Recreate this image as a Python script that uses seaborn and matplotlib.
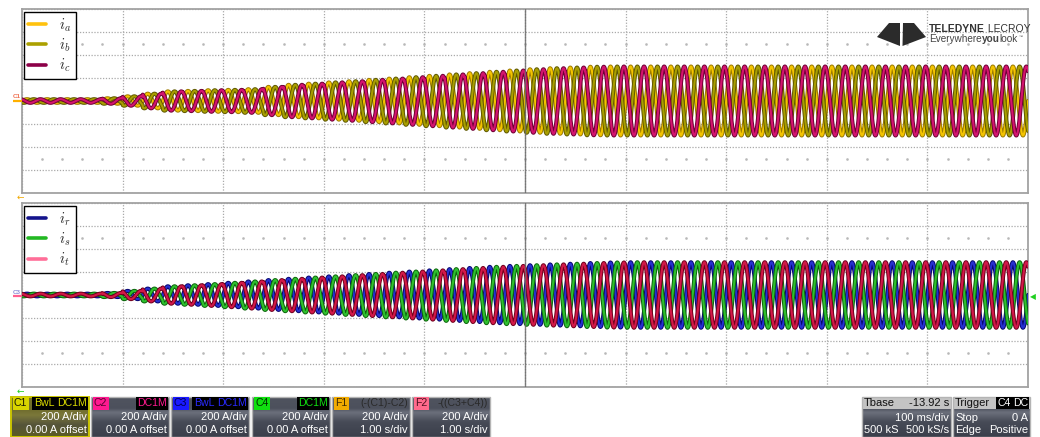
import numpy as np
import pandas as pd
import matplotlib
matplotlib.use("Agg")
import matplotlib.pyplot as plt
import matplotlib.patheffects as pe
from matplotlib.lines import Line2D
from matplotlib.patches import Rectangle, Polygon
from matplotlib.font_manager import FontProperties
from matplotlib.colors import to_rgb
import seaborn as sns

# ---------------- data ----------------
FREQ_HZ = 50.0             # 5 cycles per 100 ms division
TIME_SPAN_MS = 1000        # 10 div x 100 ms/div
CYCLE_MS = 20
AMPS_PER_DIV = 200         # 200 A/div, 8 vertical divisions

# peak current of every 20 ms cycle (A), top panel (i_a, i_b, i_c)
peak_abc_A = [16, 16, 16, 16, 24, 41, 64, 84, 88, 94,
              97, 103, 123, 141, 151, 162, 172, 184, 195, 207,
              219, 231, 242, 254, 265, 276, 285, 291, 298, 300,
              300, 300, 300, 300, 300, 300, 300, 300, 300, 300,
              300, 300, 300, 300, 300, 300, 300, 300, 300, 300]
# peak current of every 20 ms cycle (A), bottom panel (i_r, i_s, i_t)
peak_rst_A = [12, 12, 12, 12, 18, 36, 56, 76, 85, 95,
              106, 118, 130, 141, 152, 162, 173, 183, 194, 204,
              214, 225, 235, 245, 253, 259, 266, 272, 278, 283,
              285, 285, 285, 285, 285, 285, 285, 285, 285, 285,
              285, 285, 285, 285, 285, 285, 285, 285, 285, 285]

labels_top = ["$i_a$", "$i_b$", "$i_c$"]
labels_bot = ["$i_r$", "$i_s$", "$i_t$"]
phase_shift_deg = [0, -120, 120]

trace_colors_top = ["#F4C400", "#A89E00", "#D3146E"]
edge_colors_top = ["#9C7A00", "#5E5800", "#6E0034"]
legend_colors_top = ["#FFC20E", "#ABA000", "#8C0048"]
trace_colors_bot = ["#2630D0", "#2EC02E", "#D21848"]
edge_colors_bot = ["#050570", "#0B640B", "#70001C"]
legend_colors_bot = ["#14148C", "#22B822", "#FF6E98"]

# ---------------- build long-form tables ----------------
t_ms = np.linspace(0, TIME_SPAN_MS, 10001)
cyc = np.minimum((t_ms // CYCLE_MS).astype(int), len(peak_abc_A) - 1)


def panel_frame(peaks, labels):
    rows = []
    amp = np.asarray(peaks, float)[cyc]
    for lab, sh in zip(labels, phase_shift_deg):
        y = amp * np.sin(2 * np.pi * FREQ_HZ * t_ms / 1000 + np.deg2rad(sh))
        rows.append(pd.DataFrame({"time_ms": t_ms, "current_A": y, "phase": lab}))
    return pd.concat(rows, ignore_index=True)


df_top = panel_frame(peak_abc_A, labels_top)
df_bot = panel_frame(peak_rst_A, labels_bot)

# ---------------- figure ----------------
sns.set_theme(style="white")
plt.rcParams["font.family"] = ["Liberation Sans", "DejaVu Sans"]

W, H = 1040, 437
fig = plt.figure(figsize=(W / 100, H / 100), dpi=100)
fig.patch.set_facecolor("white")

left_px, right_px = 22, 1028
panels = [(9, 193), (203, 387)]
axes = []
for (y0, y1) in panels:
    ax = fig.add_axes([left_px / W, 1 - y1 / H, (right_px - left_px) / W, (y1 - y0) / H])
    axes.append(ax)


def style_axis(ax):
    ax.set_xlim(0, TIME_SPAN_MS)
    ax.set_ylim(-4 * AMPS_PER_DIV, 4 * AMPS_PER_DIV)
    ax.set_xticks(np.arange(0, TIME_SPAN_MS + 1, 100))
    ax.set_yticks(np.arange(-4 * AMPS_PER_DIV, 4 * AMPS_PER_DIV + 1, AMPS_PER_DIV))
    ax.grid(True, color="#a9a9a9", linestyle=(0, (1, 1.3)), linewidth=0.9)
    ax.set_axisbelow(True)
    ax.tick_params(length=0, labelbottom=False, labelleft=False)
    ax.set_xlabel("")
    ax.set_ylabel("")
    for s in ax.spines.values():
        s.set_color("#a2a2a2")
        s.set_linewidth(1.3)
    # faint minor dot rows
    xs = np.arange(20, TIME_SPAN_MS, 20)
    for yy in (2.5 * AMPS_PER_DIV, -2.5 * AMPS_PER_DIV):
        ax.plot(xs, np.full_like(xs, yy, dtype=float), ls="none", marker="s",
                ms=0.8, color="#b8b8b8", zorder=1)
    ax.axvline(TIME_SPAN_MS / 2, color="#6a6a6a", lw=1.0, zorder=6, alpha=0.85)


for ax, df, tc, ec, lc, labs in [
    (axes[0], df_top, trace_colors_top, edge_colors_top, legend_colors_top, labels_top),
    (axes[1], df_bot, trace_colors_bot, edge_colors_bot, legend_colors_bot, labels_bot),
]:
    style_axis(ax)
    sns.lineplot(data=df, x="time_ms", y="current_A", hue="phase", hue_order=labs,
                 palette=tc, estimator=None, sort=False, legend=False, ax=ax,
                 linewidth=1.5)
    data_lines = [l for l in ax.lines if len(l.get_xdata()) > 1000]
    for l, e in zip(data_lines, ec):
        l.set_path_effects([pe.Stroke(linewidth=2.9, foreground=e), pe.Normal()])
        l.set_zorder(3)
    ax.set_xlim(0, TIME_SPAN_MS)
    ax.set_ylim(-4 * AMPS_PER_DIV, 4 * AMPS_PER_DIV)
    handles = [Line2D([], [], color=c, lw=2.6) for c in lc]
    leg = ax.legend(handles, [s + " " for s in labs], loc="upper left",
                    bbox_to_anchor=(0.0015, 0.985), frameon=True, fancybox=False,
                    framealpha=1, edgecolor="black", handlelength=1.25,
                    handletextpad=0.85, labelspacing=0.2, borderpad=0.3,
                    borderaxespad=0.0,
                    prop=FontProperties(family="DejaVu Serif", size=10.5,
                                        math_fontfamily="cm"))
    leg.get_frame().set_linewidth(1.0)
    leg.set_zorder(20)

# ---------------- overlay (pixel coordinates) ----------------
ov = fig.add_axes([0, 0, 1, 1])
ov.patch.set_alpha(0)
ov.axis("off")
ov.set_zorder(30)
renderer = fig.canvas.get_renderer()


def grad(x0, x1, y0, y1, stops, z=1):
    n = 60
    pos = np.linspace(0, 1, n)
    sp = [s[0] for s in stops]
    cols = np.array([to_rgb(s[1]) for s in stops])
    img = np.stack([np.interp(pos, sp, cols[:, k]) for k in range(3)], axis=1)
    img = np.repeat(img[:, None, :], 2, axis=1)
    ov.imshow(img, extent=(x0, x1, y1, y0), aspect="auto", zorder=z,
              interpolation="bilinear")


FS = 8
tagfs = 7.6
box_y0, box_y1 = 397, 437
gray_stops = [(0, "#50545f"), (0.28, "#4c505c"), (0.38, "#6c707c"),
              (0.62, "#474b57"), (1, "#3b3f4b")]

channels = [
    (11, 89, "C1", "#d9d500", "#1a1a00", ["BwL", "DC1M"], "#dcdc00", "200 A/div", "0.00 A offset"),
    (91, 169, "C2", "#ff1a90", "#5a0030", ["DC1M"], "#ff1a90", "200 A/div", "0.00 A offset"),
    (171, 249, "C3", "#1a1aff", "#000050", ["BwL", "DC1M"], "#2a2aff", "200 A/div", "0.00 A offset"),
    (252, 330, "C4", "#10e010", "#003000", ["DC1M"], "#10e010", "200 A/div", "0.00 A offset"),
    (332, 410, "F1", "#f2ab00", "#402a00", ["(-(C1)-C2)"], None, "200 A/div", "1.00 s/div"),
    (412, 490, "F2", "#ff6a8c", "#501020", ["-((C3+C4))"], None, "200 A/div", "1.00 s/div"),
]

for i, (x0, x1, tag, tbg, tfg, rtags, rcol, r2, r3) in enumerate(channels):
    if i == 0:
        grad(x0, x1, box_y0, box_y1, [(0, "#77732a"), (0.3, "#6e6b2c"), (0.45, "#7b783a"),
                                      (0.7, "#55543a"), (1, "#5c5c24")])
        ov.add_patch(Rectangle((x0, box_y0), x1 - x0, box_y1 - box_y0, fill=False,
                               ec="#c9c400", lw=1.4, zorder=3))
    else:
        grad(x0, x1, box_y0, box_y1, gray_stops)
        ov.add_patch(Rectangle((x0, box_y0), x1 - x0, box_y1 - box_y0, fill=False,
                               ec="#b4b4b4", lw=1.0, zorder=3))
    ov.text(x0 + 3, 403.5, tag, fontsize=tagfs, color=tfg, ha="left", va="center", zorder=5,
            bbox=dict(boxstyle="square,pad=0.12", fc=tbg, ec="none"))
    xr = x1 - 2
    for rt in reversed(rtags):
        if rcol is None:
            t = ov.text(xr, 403.5, rt, fontsize=tagfs, color="#2a2a2a", ha="right",
                        va="center", zorder=5)
        else:
            t = ov.text(xr, 403.5, rt, fontsize=tagfs, color=rcol, ha="right", va="center",
                        zorder=5, bbox=dict(boxstyle="square,pad=0.12", fc="black", ec="none"))
        bb = t.get_window_extent(renderer)
        xr -= bb.width + 3
    ov.text(x1 - 2, 417, r2, fontsize=FS, color="white", ha="right", va="center", zorder=5)
    ov.text(x1 - 2, 430, r3, fontsize=FS, color="white", ha="right", va="center", zorder=5)

for (x0, x1, head_l, head_r, r2l, r2r, r3l, r3r) in [
    (862, 951, "Tbase", "-13.92 s", "", "100 ms/div", "500 kS", "500 kS/s"),
    (953, 1030, "Trigger", None, "Stop", "0 A", "Edge", "Positive"),
]:
    grad(x0, x1, box_y0, box_y1, gray_stops)
    ov.add_patch(Rectangle((x0, box_y0), x1 - x0, 12, fc="#c3c3c3", ec="none", zorder=2))
    ov.add_patch(Rectangle((x0, box_y0), x1 - x0, box_y1 - box_y0, fill=False,
                           ec="#b4b4b4", lw=1.0, zorder=3))
    ov.text(x0 + 2, 403, head_l, fontsize=FS, color="#111111", ha="left", va="center", zorder=5)
    if head_r is not None:
        ov.text(x1 - 2, 403, head_r, fontsize=FS, color="#111111", ha="right", va="center",
                zorder=5)
    else:
        t = ov.text(x1 - 2, 403, "DC", fontsize=tagfs, color="white", ha="right",
                    va="center", zorder=5,
                    bbox=dict(boxstyle="square,pad=0.1", fc="black", ec="none"))
        bb = t.get_window_extent(renderer)
        ov.text(x1 - 2 - bb.width - 2, 403, "C4", fontsize=tagfs, color="white",
                ha="right", va="center", zorder=5,
                bbox=dict(boxstyle="square,pad=0.1", fc="black", ec="none"))
    if r2l:
        ov.text(x0 + 2, 418, r2l, fontsize=FS, color="white", ha="left", va="center", zorder=5)
    ov.text(x1 - 2, 418, r2r, fontsize=FS, color="white", ha="right", va="center", zorder=5)
    ov.text(x0 + 2, 430, r3l, fontsize=FS, color="white", ha="left", va="center", zorder=5)
    ov.text(x1 - 2, 430, r3r, fontsize=FS, color="white", ha="right", va="center", zorder=5)

# channel markers / arrows
ov.plot([13, 22], [101, 101], color="#ffb000", lw=1.6, zorder=5, solid_capstyle="butt")
ov.text(17, 97, "C1", fontsize=4.5, color="#f07050", ha="center", va="center",
        fontweight="bold", zorder=5)
ov.plot([13, 22], [295.5, 295.5], color="#ff6090", lw=1.6, zorder=5, solid_capstyle="butt")
ov.text(17, 292, "C3", fontsize=4.5, color="#8a8ad8", ha="center", va="center",
        fontweight="bold", zorder=5)
ov.text(20, 197.5, "\u2190", fontsize=6.5, color="#f0a800", ha="center", va="center",
        family="DejaVu Sans", zorder=5)
ov.text(20, 391.5, "\u2190", fontsize=6.5, color="#20d020", ha="center", va="center",
        family="DejaVu Sans", zorder=5)
ov.text(1033, 297, "\u25C0", fontsize=5.5, color="#20d020", ha="center", va="center",
        family="DejaVu Sans", zorder=5)

# logo mark
ov.add_patch(Polygon([(877, 37), (889, 23), (900, 23), (900, 46)], closed=True,
                     fc="#2b2b2b", ec="none", zorder=5))
ov.add_patch(Polygon([(903, 23), (914, 23), (926, 37), (902.5, 46)], closed=True,
                     fc="#2b2b2b", ec="none", zorder=5))
x = 929
for s, wgt in [("TELEDYNE", "bold"), (" LECROY", "normal")]:
    t = ov.text(x, 29, s, fontsize=7.5, fontweight=wgt, color="#333333", ha="left",
                va="center", zorder=5)
    x += t.get_window_extent(renderer).width
x = 929
for s, wgt in [("Everywhere", "normal"), ("you", "bold"), ("look", "normal")]:
    t = ov.text(x, 39.5, s, fontsize=7.2, fontweight=wgt, color="#444444", ha="left",
                va="center", zorder=5)
    x += t.get_window_extent(renderer).width
ov.text(x + 0.5, 37, "\u2122", fontsize=3, color="#444444", ha="left", va="center", zorder=5)

ov.set_xlim(0, W)
ov.set_ylim(H, 0)

fig.savefig("out.png", dpi=100, facecolor="white")
